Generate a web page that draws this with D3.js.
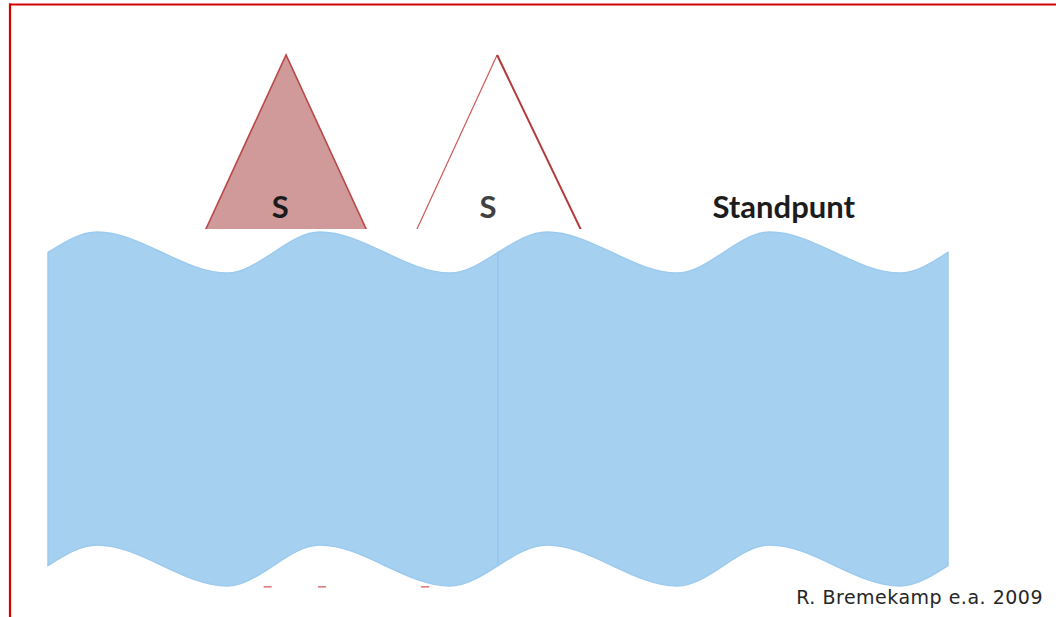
<!DOCTYPE html>
<html>
<head>
<meta charset="utf-8">
<script src="https://cdn.jsdelivr.net/npm/d3@7"></script>
<style>
  html, body { margin: 0; padding: 0; background: #fff; }
  svg { display: block; }
</style>
</head>
<body>
<div id="chart"></div>
<script>
// panels of the wave band (two flag shapes side by side)
var panels = ['links', 'rechts'];
// wave profile of one panel: position along panel (0..1) and height (0 = trough, 1 = crest)
var waveAt = [0, 0.109, 0.398, 0.604, 0.893, 1];
var waveHeight = [0.5, 1, 0, 1, 0, 0.5];
// triangles above the band
var triangles = [
    { label: 'S', apex: 0.529, filled: true },
    { label: 'S', apex: 0.998, filled: false }
];
var labelAt = [0.516, 0.978, 1.635];
var labels = ['S', 'S', 'Standpunt'];
// little red bits showing under the band
var redBits = [0.488, 0.609, 0.838];
var credit = 'R. Bremekamp e.a. 2009';

(function(){
    'use strict';

    var W = 1056, H = 617,
        bandDepth = 313;

    var svg = d3.select('#chart').append('svg')
        .attr('width', W)
        .attr('height', H);

    var x = d3.scaleLinear().domain([0, panels.length]).range([48, 948]),
        crest = d3.scaleLinear().domain([0, 1]).range([273, 232]),
        triY = d3.scaleLinear().domain([0, 1]).range([229, 55]);

    // frame lines (top and left)
    svg.append('line')
        .attr('x1', 9).attr('x2', W).attr('y1', 4.5).attr('y2', 4.5)
        .attr('stroke', '#d40000').attr('stroke-width', 2.2);
    svg.append('line')
        .attr('x1', 10).attr('x2', 10).attr('y1', 3.5).attr('y2', H)
        .attr('stroke', '#d40000').attr('stroke-width', 2.2);

    // triangles, cut off at the band line
    svg.append('clipPath').attr('id', 'triClip')
        .append('rect').attr('x', 0).attr('y', 0).attr('width', W).attr('height', triY(0));

    var halfBase = 0.178, // in panel units at the cut line
        gTri = svg.append('g').attr('clip-path', 'url(#triClip)');

    triangles.forEach(function( t ){
        var ax = x(t.apex),
            dx = x(halfBase) - x(0),
            pts = [
                [ax - dx * 1.2, triY(-0.2)],
                [ax, triY(1)],
                [ax + dx * 1.2, triY(-0.2)]
            ];
        if ( t.filled ){
            gTri.append('path')
                .attr('d', d3.line()(pts) + 'Z')
                .attr('fill', '#d09a9a')
                .attr('stroke', '#b94848')
                .attr('stroke-width', 1.6);
        }else{
            gTri.append('line')
                .attr('x1', pts[0][0]).attr('y1', pts[0][1])
                .attr('x2', pts[1][0]).attr('y2', pts[1][1])
                .attr('stroke', '#cc5a5a').attr('stroke-width', 1.2);
            gTri.append('line')
                .attr('x1', pts[1][0]).attr('y1', pts[1][1])
                .attr('x2', pts[2][0] + 4).attr('y2', pts[2][1])
                .attr('stroke', '#b33a3a').attr('stroke-width', 2);
        }
    });

    // headings
    svg.selectAll('text.head')
        .data(labels)
        .enter().append('text')
        .attr('class', 'head')
        .attr('x', function( d, i ){ return x(labelAt[i]); })
        .attr('y', 218)
        .attr('text-anchor', 'middle')
        .attr('font-family', 'Lato, "Open Sans", sans-serif')
        .attr('font-weight', 'bold')
        .attr('font-size', 31)
        .attr('fill', function( d, i ){ return i === 1 ? '#404040' : '#1c1c1c'; })
        .text(function( d ){ return d; });

    // red bits peeking out under the band
    svg.selectAll('rect.bit')
        .data(redBits)
        .enter().append('rect')
        .attr('class', 'bit')
        .attr('x', function( d ){ return x(d) - 4; })
        .attr('y', 586)
        .attr('width', 8)
        .attr('height', 1.6)
        .attr('fill', '#e07a7a');

    // wave band
    var edge = d3.line()
        .x(function( d ){ return d[0]; })
        .y(function( d ){ return d[1]; })
        .curve(d3.curveMonotoneX);

    var gBand = svg.append('g');

    panels.forEach(function( name, p ){
        var top = waveAt.map(function( a, i ){
                return [ x(p + a), crest(waveHeight[i]) ];
            }),
            bottom = top.map(function( d ){ return [ d[0], d[1] + bandDepth ]; });

        // closed outline: top edge, right side, bottom edge back, left side
        var topD = edge(top),
            botD = edge(bottom.slice().reverse()),
            last = bottom[bottom.length - 1];

        gBand.append('path')
            .attr('class', 'panel ' + name)
            .attr('d', topD + 'L' + last[0] + ',' + last[1] + botD.replace(/^M[^CL]*/, '') + 'Z')
            .attr('fill', '#a6d0f0')
            .attr('stroke', '#9ccaee')
            .attr('stroke-width', 1.5);
    });

    // seam between the panels
    gBand.append('line')
        .attr('x1', x(1)).attr('x2', x(1))
        .attr('y1', crest(0.5)).attr('y2', crest(0.5) + bandDepth)
        .attr('stroke', '#99c7ee').attr('stroke-width', 2);

    // source
    svg.append('text')
        .attr('x', 1043)
        .attr('y', 604)
        .attr('text-anchor', 'end')
        .attr('font-family', '"DejaVu Sans", Verdana, sans-serif')
        .attr('font-size', 19)
        .attr('letter-spacing', 0.5)
        .attr('fill', '#262626')
        .text(credit);
})();
</script>
</body>
</html>
